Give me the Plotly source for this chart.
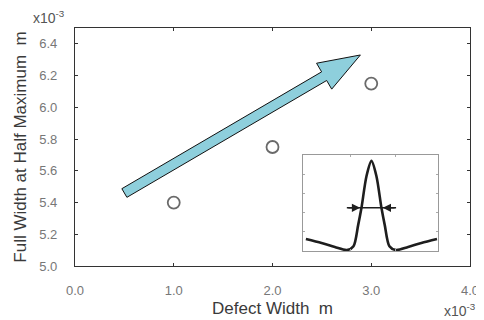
import numpy as np
import plotly.graph_objects as go

# ---- data ----
defect_width = [1.0, 2.0, 3.0]          # x10^-3 m
fwhm = [5.40, 5.75, 6.15]               # x10^-3 m
x_ticks = [0.0, 1.0, 2.0, 3.0, 4.0]
y_ticks = [5.0, 5.2, 5.4, 5.6, 5.8, 6.0, 6.2, 6.4]

# inset schematic profile
inset_x = [-0.985, -0.75, -0.55, -0.37, -0.27, -0.20, -0.15, -0.075, 0.0,
           0.075, 0.15, 0.20, 0.27, 0.37, 0.55, 0.75, 0.985]
inset_y = [0.125, 0.083, 0.042, 0.01, 0.05, 0.27, 0.45, 0.78, 0.94,
           0.78, 0.45, 0.27, 0.05, 0.01, 0.042, 0.083, 0.125]
half_max = 0.45
fw_arrow_tail = 0.37
fw_arrow_head = 0.17

# trend arrow (data coords)
arrow_tail = (0.50, 5.46)
arrow_tip = (2.89, 6.33)

XR = [0, 4]
YR = [5.0, 6.5]
W, H = 476, 312
ML, MR, MT, MB = 67, 14, 20, 54
PW, PH = W - ML - MR, H - MT - MB

def to_px(x, y):
    return ((x - XR[0]) / (XR[1] - XR[0]) * PW, (y - YR[0]) / (YR[1] - YR[0]) * PH)

def to_data(px, py):
    return (XR[0] + px / PW * (XR[1] - XR[0]), YR[0] + py / PH * (YR[1] - YR[0]))

# build arrow polygon in pixel space
t = np.array(to_px(*arrow_tail))
h = np.array(to_px(*arrow_tip))
d = h - t
L = np.linalg.norm(d)
u = d / L
n = np.array([-u[1], u[0]])
sw, hw, hl = 5.0, 15.0, 42.0
b = h - u * hl
pts = [t + n * sw, b + n * sw, b + n * hw, h, b - n * hw, b - n * sw, t - n * sw]
path = "M " + " L ".join("%f,%f" % to_data(*p) for p in pts) + " Z"

fig = go.Figure()
fig.add_trace(go.Scatter(
    x=defect_width, y=fwhm, mode="markers",
    marker=dict(symbol="circle-open", size=12, color="#6a6a6a", line=dict(width=1.8, color="#6a6a6a")),
    showlegend=False))

fig.add_trace(go.Scatter(
    x=inset_x, y=inset_y, mode="lines", xaxis="x2", yaxis="y2",
    line=dict(color="#1e1e1e", width=2.6, shape="spline", smoothing=0.8),
    showlegend=False))

fig.add_shape(type="path", path=path, xref="x", yref="y",
              fillcolor="#8ecfdc", line=dict(color="#111111", width=1))

fig.add_shape(type="line", xref="x2", yref="y2", x0=-fw_arrow_tail, x1=fw_arrow_tail,
              y0=half_max, y1=half_max, line=dict(color="#1e1e1e", width=1.5))
for s in (-1, 1):
    fig.add_annotation(x=s * fw_arrow_head, y=half_max, ax=s * fw_arrow_tail, ay=half_max,
                       xref="x2", yref="y2", axref="x2", ayref="y2", text="",
                       showarrow=True, arrowhead=2, arrowsize=1.1, arrowwidth=1.5,
                       arrowcolor="#1e1e1e")

FAM = "Liberation Sans, Arial, sans-serif"
axis_font = dict(family=FAM, size=13, color="#777777")
title_font = dict(family=FAM, size=17, color="#3a3a3a")

fig.update_layout(
    width=W, height=H, margin=dict(l=ML, r=MR, t=MT, b=MB, autoexpand=False),
    paper_bgcolor="white", plot_bgcolor="rgba(0,0,0,0)",
    xaxis=dict(range=XR, tickvals=x_ticks, tickformat=".1f", ticks="inside", ticklen=3,
               tickcolor="#333", showline=True, linecolor="#333333", linewidth=1.2, mirror="ticks",
               showgrid=False, zeroline=False, tickfont=axis_font, layer="above traces",
               ticklabelstandoff=12,
               title=dict(text="Defect Width  m", font=title_font, standoff=5)),
    yaxis=dict(range=YR, tickvals=y_ticks, tickformat=".1f", ticks="inside", ticklen=3,
               tickcolor="#333", showline=True, linecolor="#333333", linewidth=1.2, mirror="ticks",
               showgrid=False, zeroline=False, tickfont=axis_font, ticklabelstandoff=14,
               layer="above traces",
               title=dict(text="Full Width at Half Maximum  m", font=title_font, standoff=8)),
    xaxis2=dict(domain=[0.577, 0.919], anchor="y2", range=[-1.03, 1.0],
                tickvals=[-0.31, 0.36], ticks="inside", ticklen=2, tickcolor="#aaa",
                showticklabels=False, showline=True, linecolor="#999", linewidth=1,
                mirror="ticks", showgrid=False, zeroline=False),
    yaxis2=dict(domain=[0.063, 0.466], anchor="x2", range=[-0.0, 1.0],
                tickvals=[0.2, 0.4, 0.6, 0.8], ticks="inside", ticklen=2, tickcolor="#aaa",
                showticklabels=False, showline=True, linecolor="#999", linewidth=1,
                mirror="ticks", showgrid=False, zeroline=False),
)

fig.add_annotation(x=0.0, y=1.0, xref="paper", yref="paper", xanchor="right", yanchor="bottom",
                   xshift=-8, yshift=0, text="x10<sup>-3</sup>", showarrow=False,
                   font=dict(family=FAM, size=14, color="#555"))
fig.add_annotation(x=1.0, y=0.0, xref="paper", yref="paper", xanchor="center", yanchor="top",
                   xshift=-10, yshift=-33, text="x10<sup>-3</sup>", showarrow=False,
                   font=dict(family=FAM, size=14, color="#555"))

fig.write_html("out.html")
